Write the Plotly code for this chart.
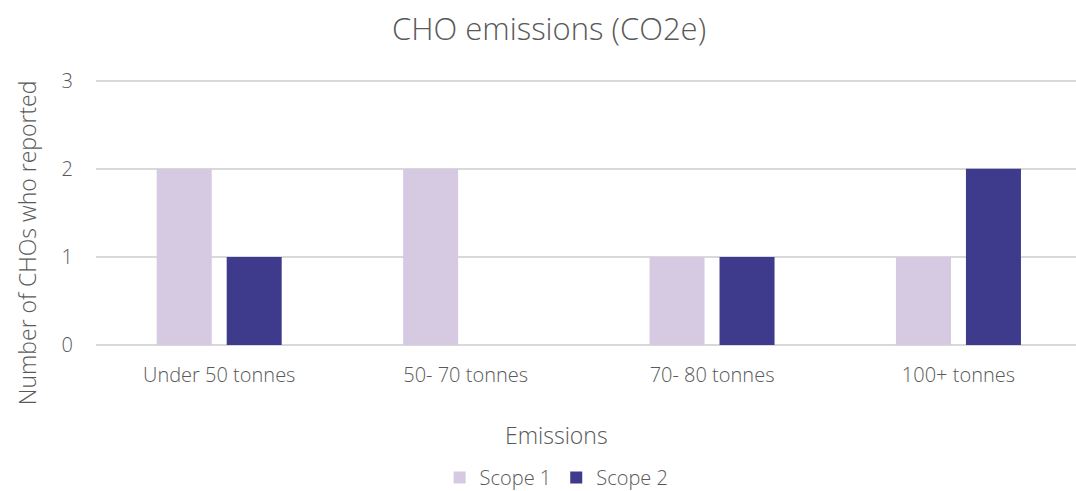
import plotly.graph_objects as go

# Emission bands and the number of CHOs reporting in each
categories = ["Under 50 tonnes", "50- 70 tonnes", "70- 80 tonnes", "100+ tonnes"]
scope1 = [2, 2, 1, 1]
scope2 = [1, 0, 1, 2]
y_ticks = [0, 1, 2, 3]

FONT = "Open Sans"
GREY = "#595959"


def font(size):
    return dict(size=size, color=GREY, family=FONT, weight=300)


fig = go.Figure()
fig.add_trace(go.Bar(name="Scope 1", x=categories, y=scope1,
                     marker=dict(color="#d6cae2", line=dict(width=0))))
fig.add_trace(go.Bar(name="Scope 2", x=categories, y=scope2,
                     marker=dict(color="#3e3a8c", line=dict(width=0))))

# plot area: y=0 sits at 345 px, y=3 at 81 px (88 px per unit)
fig.update_layout(
    width=1076, height=491,
    margin=dict(l=96, r=0, t=79, b=146, autoexpand=False),
    paper_bgcolor="white", plot_bgcolor="white",
    barmode="group", bargap=0.432, bargroupgap=0.214,
    font=font(20),
    showlegend=True,
    legend=dict(orientation="h", x=0.47, xanchor="center", y=-0.425, yanchor="top",
                font=font(20), itemwidth=30, tracegroupgap=0),
    xaxis=dict(range=[-0.5, 3.477], showgrid=False, zeroline=False, showline=False,
               ticks="", ticklabelstandoff=16, tickfont=font(20)),
    yaxis=dict(range=[0, 3.02], tickvals=y_ticks, showgrid=True, gridcolor="#d9d9d9",
               gridwidth=1.5, zeroline=True, zerolinecolor="#d9d9d9", zerolinewidth=1.5,
               showline=False, ticks="", ticklabelstandoff=22, tickfont=font(20)),
    annotations=[
        dict(text="CHO emissions (CO2e)", xref="paper", yref="paper", x=0.462, y=1.193,
             xanchor="center", yanchor="middle", showarrow=False, font=font(31)),
        dict(text="Emissions", xref="paper", yref="paper", x=0.470, y=-0.339,
             xanchor="center", yanchor="middle", showarrow=False, font=font(23)),
        dict(text="Number of CHOs who reported", xref="paper", yref="paper",
             x=-0.0704, y=0.383, xanchor="center", yanchor="middle", textangle=-90,
             showarrow=False, font=font(23)),
    ],
)

fig.write_html("out.html")
